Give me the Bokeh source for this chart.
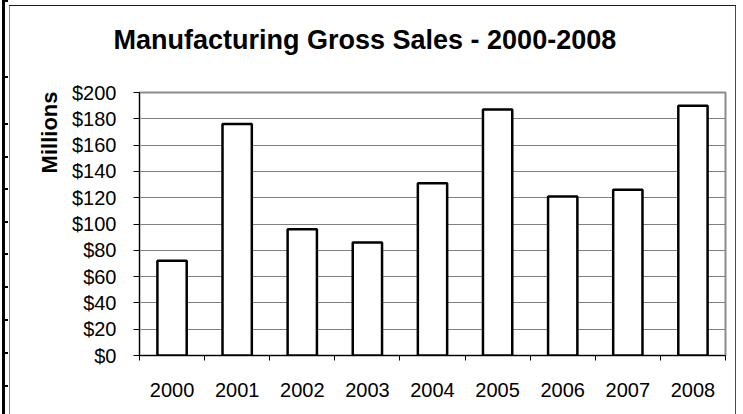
import math
from bokeh.plotting import figure
from bokeh.models import (Range1d, FixedTicker, LinearAxis, Grid, Title)
from bokeh.embed import file_html
from bokeh.resources import INLINE

# ---- data ----
years = ["2000", "2001", "2002", "2003", "2004", "2005", "2006", "2007", "2008"]
sales = [72, 176, 96, 86, 131, 187, 121, 126, 190]
y_ticks = [0, 20, 40, 60, 80, 100, 120, 140, 160, 180, 200]
y_tick_labels = ["$0", "$20", "$40", "$60", "$80", "$100", "$120",
                 "$140", "$160", "$180", "$200"]
title_text = "Manufacturing Gross Sales - 2000-2008"
y_title = "Millions"

# ---- layout (pixels) ----
W, H = 743, 414
FL, FR, FT, FB = 139, 725, 92, 355
FONT = "Liberation Sans"

p = figure(width=W, height=H, output_backend="svg", toolbar_location=None,
           x_range=Range1d(0, len(years)), y_range=Range1d(0, 200),
           x_axis_type=None, y_axis_type=None,
           min_border_left=FL, min_border_right=W - FR,
           min_border_top=FT, min_border_bottom=H - FB)
p.background_fill_color = "white"
p.border_fill_color = None
p.outline_line_color = "#8c8c8c"
p.outline_line_width = 2

# chart-area border and spreadsheet edge drawn as page background
bg = [  # (x, y, w, h, colour)
    (9, 5, 727, 1, "#1a1a1a"),
    (9, 5, 1, 409, "#8a8a8a"),
    (735, 5, 1, 409, "#4a4a4a"),
    (2, 0, 3, 414, "#000000"),
]
for ry in [0, 76, 123, 156, 188, 221, 253, 286, 319, 352, 385]:
    bg.append((5, ry, 3, 2, "#000000"))
p.styles = {
    "background-color": "white",
    "background-image": ", ".join(f"linear-gradient({c},{c})" for *_, c in bg),
    "background-position": ", ".join(f"{x}px {y}px" for x, y, *_ in bg),
    "background-size": ", ".join(f"{w}px {h}px" for _, _, w, h, _ in bg),
    "background-repeat": "no-repeat",
}

# spacer (closest to the frame) then the chart title above it
p.add_layout(Title(text=" ", text_font_size="1px", standoff=35), "above")
p.add_layout(Title(text=title_text, text_font=FONT, text_font_style="bold",
                   text_font_size="27px", text_color="black",
                   align="left", offset=113 - FL,
                   vertical_align="bottom", standoff=0), "above")

centers = [i + 0.5 for i in range(len(years))]
bounds = list(range(len(years) + 1))

# y axis
yaxis = LinearAxis(ticker=FixedTicker(ticks=y_ticks, minor_ticks=[]),
                   major_label_overrides={t: l for t, l in zip(y_ticks, y_tick_labels)})
yaxis.axis_line_color = "black"
yaxis.major_tick_line_color = "black"
yaxis.major_tick_out = 6
yaxis.major_tick_in = 0
yaxis.minor_tick_line_color = None
yaxis.major_label_standoff = 17
yaxis.major_label_text_font = FONT
yaxis.major_label_text_font_size = "20px"
yaxis.major_label_text_color = "black"
p.add_layout(yaxis, "left")

p.add_layout(Title(text=y_title, align="right", offset=-1, standoff=16,
                   text_font=FONT, text_font_style="bold",
                   text_font_size="22px", text_color="black"), "left")

# x axis
xaxis = LinearAxis(ticker=FixedTicker(ticks=centers, minor_ticks=bounds),
                   major_label_overrides={c: y for c, y in zip(centers, years)})
xaxis.axis_line_color = "black"
xaxis.major_tick_line_color = None
xaxis.minor_tick_line_color = "black"
xaxis.minor_tick_out = 5
xaxis.minor_tick_in = 0
xaxis.major_label_standoff = 21
xaxis.major_label_text_font = FONT
xaxis.major_label_text_font_size = "20px"
xaxis.major_label_text_color = "black"
p.add_layout(xaxis, "below")

p.add_layout(Grid(dimension=1, ticker=yaxis.ticker,
                  grid_line_color="#808080", grid_line_width=1))

p.vbar(x=centers, top=sales, bottom=0, width=0.45,
       fill_color="white", line_color="black", line_width=2.5)

open("out.html", "w").write(file_html(p, INLINE))
